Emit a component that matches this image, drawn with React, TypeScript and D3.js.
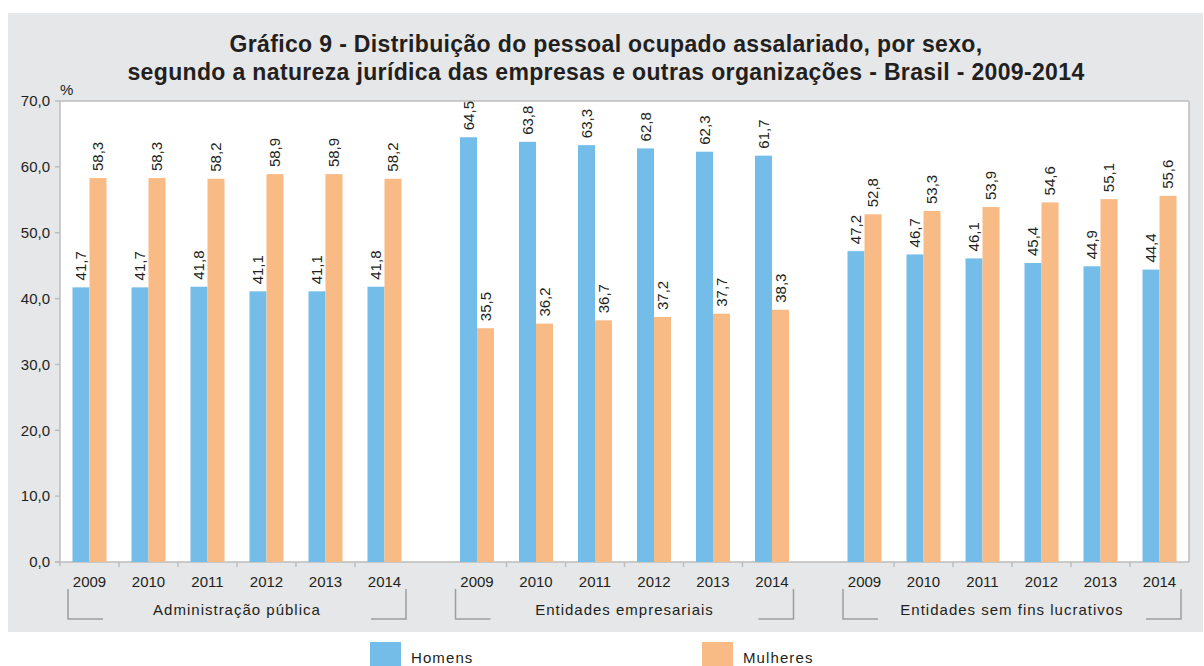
import React from "react";
import * as d3 from "d3";

const groups = ["Administração pública", "Entidades empresariais", "Entidades sem fins lucrativos"];
const years = ["2009", "2010", "2011", "2012", "2013", "2014"];
const seriesNames = ["Homens", "Mulheres"];
const homens = [
  [41.7, 41.7, 41.8, 41.1, 41.1, 41.8],
  [64.5, 63.8, 63.3, 62.8, 62.3, 61.7],
  [47.2, 46.7, 46.1, 45.4, 44.9, 44.4],
];
const mulheres = [
  [58.3, 58.3, 58.2, 58.9, 58.9, 58.2],
  [35.5, 36.2, 36.7, 37.2, 37.7, 38.3],
  [52.8, 53.3, 53.9, 54.6, 55.1, 55.6],
];
const yTicks = [0, 10, 20, 30, 40, 50, 60, 70];
const titleLines = [
  "Gráfico 9 - Distribuição do pessoal ocupado assalariado, por sexo,",
  "segundo a natureza jurídica das empresas e outras organizações - Brasil - 2009-2014",
];

const colors = ["#74BDE8", "#F9BB85"];
const FONT = "'Liberation Sans', Arial, Helvetica, sans-serif";
const TEXT = "#231F20";
const AXIS = "#BDBDBD";

const W = 1204, H = 666;
const plot = { left: 60, right: 1189, top: 101, bottom: 562 };

const fmt = (v: number) => d3.format(".1f")(v).replace(".", ",");

export default function App() {
  const y = d3.scaleLinear().domain([0, 70]).range([plot.bottom, plot.top]);
  const xGroup = d3.scaleBand<string>().domain(groups).range([plot.left, plot.right]).paddingInner(0.0865).paddingOuter(0);
  const xYear = d3.scaleBand<string>().domain(years).range([0, xGroup.bandwidth()]).padding(0);
  const xSeries = d3.scaleBand<string>().domain(seriesNames).range([0, xYear.bandwidth()]).paddingInner(0).paddingOuter(0.735);
  const values = [homens, mulheres];

  return (
    <svg width={W} height={H} style={{ position: "absolute", left: 0, top: 0 }} fontFamily={FONT}>
      <rect x={0} y={0} width={W} height={H} fill="#fff" />
      <rect x={8} y={13} width={1195} height={619} fill="#E6E7E8" />
      {titleLines.map((t, i) => (
        <text key={i} x={606} y={52 + i * 28} textAnchor="middle" fontWeight="bold" fontSize={23} letterSpacing={0.35} fill={TEXT}>
          {t}
        </text>
      ))}
      <rect x={plot.left} y={plot.top} width={plot.right - plot.left} height={plot.bottom - plot.top} fill="#fff" />
      <line x1={plot.left} x2={plot.right} y1={plot.top} y2={plot.top} stroke={AXIS} strokeWidth={1.5} />
      <line x1={plot.right} x2={plot.right} y1={plot.top} y2={plot.bottom} stroke={AXIS} strokeWidth={1.5} />
      <line x1={plot.left} x2={plot.left} y1={plot.top} y2={plot.bottom + 4} stroke={AXIS} strokeWidth={1.5} />
      <line x1={plot.left - 5} x2={plot.right} y1={plot.bottom} y2={plot.bottom} stroke={AXIS} strokeWidth={1.5} />
      <text x={plot.left} y={95} fontSize={15} fill={TEXT}>%</text>
      {yTicks.map((t) => (
        <g key={t}>
          <line x1={plot.left - 5} x2={plot.left} y1={y(t)} y2={y(t)} stroke={AXIS} strokeWidth={1.5} />
          <text x={plot.left - 10} y={y(t)} dy="0.35em" textAnchor="end" fontSize={15} fill={TEXT}>
            {fmt(t)}
          </text>
        </g>
      ))}
      {groups.map((g, gi) => {
        const gx = xGroup(g)!;
        const gw = xGroup.bandwidth();
        return (
          <g key={g}>
            {years.map((yr, yi) => {
              const cx = gx + xYear(yr)!;
              return (
                <g key={yr}>
                  {yi > 0 && (
                    <line x1={cx} x2={cx} y1={plot.bottom} y2={plot.bottom + 5} stroke={AXIS} strokeWidth={1.5} />
                  )}
                  {seriesNames.map((s, si) => {
                    const v = values[si][gi][yi];
                    const bx = cx + xSeries(s)!;
                    const bw = xSeries.bandwidth();
                    const top = y(v);
                    const lx = bx + bw / 2;
                    const ly = top - 7;
                    return (
                      <g key={s}>
                        <rect x={bx} y={top} width={bw} height={plot.bottom - top} fill={colors[si]} />
                        <text
                          x={lx}
                          y={ly}
                          transform={`rotate(-90 ${lx} ${ly})`}
                          dy="0.35em"
                          fontSize={15}
                          fill={TEXT}
                        >
                          {fmt(v)}
                        </text>
                      </g>
                    );
                  })}
                  <text x={cx + xYear.bandwidth() / 2} y={587} textAnchor="middle" fontSize={15} fill={TEXT}>
                    {yr}
                  </text>
                </g>
              );
            })}
            <path
              d={`M${gx + 8},589 V619 H${gx + 43} M${gx + gw - 8},589 V619 H${gx + gw - 43}`}
              fill="none"
              stroke="#9E9E9E"
              strokeWidth={1.5}
            />
            <text x={gx + gw / 2} y={615} textAnchor="middle" fontSize={15} letterSpacing={1} fill={TEXT}>
              {g}
            </text>
          </g>
        );
      })}
      {seriesNames.map((s, si) => {
        const lx = si === 0 ? 370 : 702;
        return (
          <g key={s}>
            <rect x={lx} y={642} width={31} height={31} fill={colors[si]} />
            <text x={lx + 41} y={663} fontSize={15} letterSpacing={1.1} fill={TEXT}>
              {s}
            </text>
          </g>
        );
      })}
    </svg>
  );
}
